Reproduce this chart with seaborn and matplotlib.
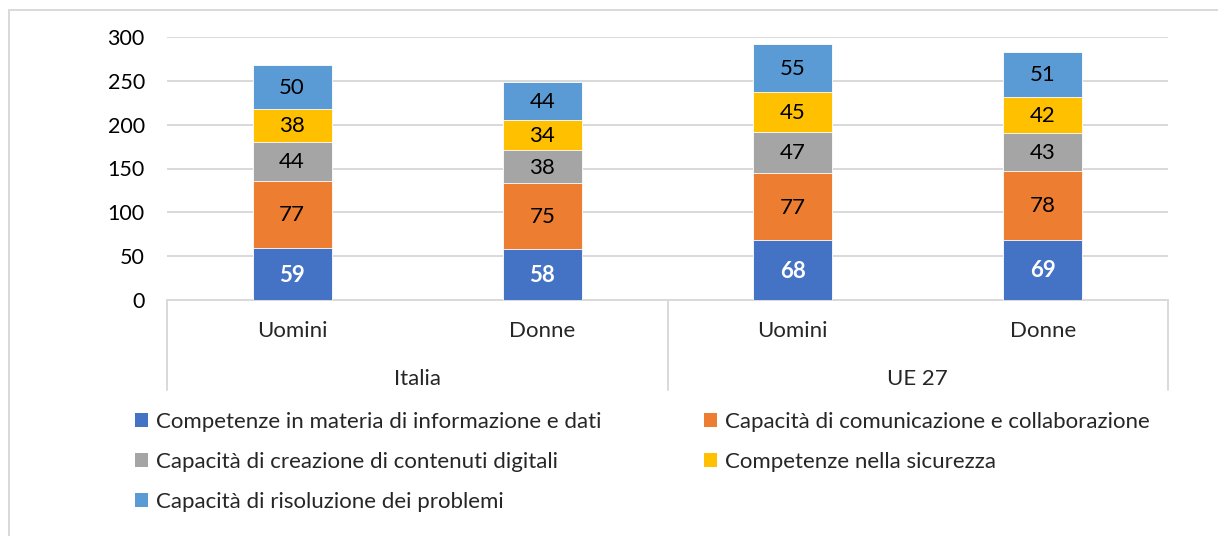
import pandas as pd
import numpy as np
import matplotlib.pyplot as plt
import matplotlib.transforms as mtransforms
from matplotlib.patches import Rectangle, Patch
import seaborn as sns

# values
gruppi = ["Italia", "Italia", "UE 27", "UE 27"]
sesso = ["Uomini", "Donne", "Uomini", "Donne"]
serie = [
    "Competenze in materia di informazione e dati",
    "Capacità di comunicazione e collaborazione",
    "Capacità di creazione di contenuti digitali",
    "Competenze nella sicurezza",
    "Capacità di risoluzione dei problemi",
]
informazione = [59, 58, 68, 69]
comunicazione = [77, 75, 77, 78]
creazione = [44, 38, 47, 43]
sicurezza = [38, 34, 45, 42]
problemi = [50, 44, 55, 51]
colori = ["#4472C4", "#ED7D31", "#A5A5A5", "#FFC000", "#5B9BD5"]

sns.set_theme(style="white")
plt.rcParams['font.family'] = ['Lato', 'DejaVu Sans']
FS = 16

valori = [informazione, comunicazione, creazione, sicurezza, problemi]
chiavi = [g + " " + s for g, s in zip(gruppi, sesso)]
df = pd.DataFrame(np.array(valori).T, columns=serie)
df["chiave"] = chiavi
cum = df[serie].cumsum(axis=1)

fig = plt.figure(figsize=(12.18, 5.36), dpi=100)
ax = fig.add_axes([167 / 1218, 1 - 300 / 536, 1001 / 1218, 263 / 536])

# stacked bars: draw cumulative totals from top layer down
for i in range(len(serie) - 1, -1, -1):
    sns.barplot(x=df["chiave"], y=cum[serie[i]], color=colori[i], width=0.316,
                saturation=1, edgecolor="white", linewidth=0.6, ax=ax, zorder=3)

# value labels
for i, s in enumerate(serie):
    for j in range(len(df)):
        v = df[s].iloc[j]
        y = cum[s].iloc[j] - v / 2
        if i == 0:
            ax.text(j, y - 1, str(v), ha="center", va="center", color="white",
                    fontsize=FS, fontweight="bold", zorder=5)
        else:
            ax.text(j, y - 1, str(v), ha="center", va="center", color="black",
                    fontsize=FS, zorder=5)

ax.set_ylim(0, 300)
ax.set_xlim(-0.5, 3.5)
ax.set_yticks(range(0, 301, 50))
ax.yaxis.grid(True, color="#d9d9d9", linewidth=1.4, zorder=0)
ax.set_axisbelow(True)
for sp in ax.spines.values():
    sp.set_visible(False)
ax.tick_params(axis="y", length=0, pad=16, labelsize=15.5, labelcolor="black")
ax.set_xticks([])
ax.set_xlabel("")
ax.set_ylabel("")

# multi-level category axis
tr = mtransforms.blended_transform_factory(ax.transData, ax.transAxes)
ax.plot([-0.5, 3.5], [0, 0], transform=tr, color="#d9d9d9", lw=1.4, clip_on=False)
for xv in [-0.5, 1.5, 3.5]:
    ax.plot([xv, xv], [0, -0.342], transform=tr, color="#d9d9d9", lw=1.4, clip_on=False)
for j, s in enumerate(sesso):
    ax.text(j, -0.118, s, transform=tr, ha="center", va="center", fontsize=FS)
ax.text(0.5, -0.30, "Italia", transform=tr, ha="center", va="center", fontsize=FS)
ax.text(2.5, -0.30, "UE 27", transform=tr, ha="center", va="center", fontsize=FS)

# chart border
fig.patches.append(Rectangle((9 / 1218, -0.1), 1.2, 1.1 - 10 / 536, transform=fig.transFigure,
                             fill=False, edgecolor="#d9d9d9", linewidth=1.4))

# legend, rows: (0,1), (2,3), (4)
handles = [Patch(facecolor=c, edgecolor="none") for c in colori]
ordine = [0, 2, 4, 1, 3]
fig.legend([handles[k] for k in ordine], [serie[k] for k in ordine], ncol=2,
           loc="upper left", bbox_to_anchor=(135 / 1218, 1 - 412 / 536),
           frameon=False, fontsize=FS, handlelength=0.6, handleheight=0.6,
           handletextpad=0.35, columnspacing=4.6, labelspacing=0.9, borderpad=0,
           borderaxespad=0)

fig.savefig("out.png", dpi=100, facecolor="white")
